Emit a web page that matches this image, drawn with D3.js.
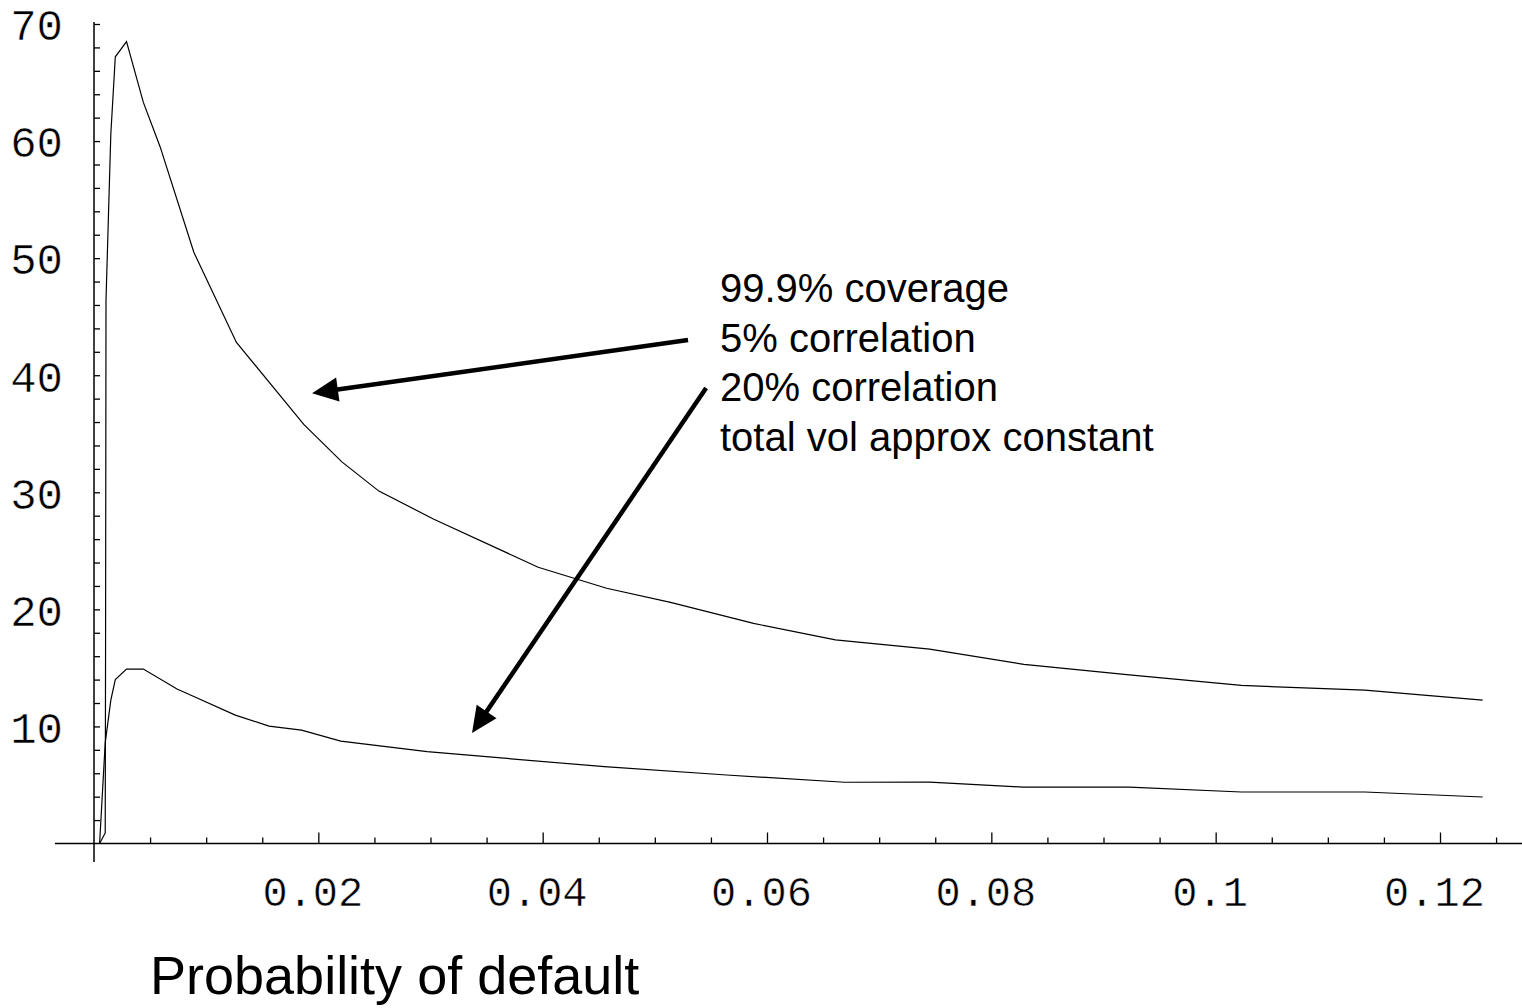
<!DOCTYPE html>
<html>
<head>
<meta charset="utf-8">
<script src="https://cdn.jsdelivr.net/npm/d3@7"></script>
<style>
  body { margin: 0; background: #fff; }
  svg { display: block; }
</style>
</head>
<body>
<svg id="chart" width="1522" height="1008"></svg>
<script>
// Capital (per unit expected loss) vs probability of default, 99.9% coverage
const pdUpper  = [0.0005, 0.001, 0.00103, 0.00107, 0.0015, 0.0019, 0.0029, 0.0044, 0.0059, 0.0089,
                  0.0127, 0.0187, 0.0221, 0.0254, 0.0303, 0.0396, 0.0457, 0.0514, 0.0588, 0.0661,
                  0.0745, 0.0829, 0.0923, 0.1023, 0.1133, 0.1238];
const capUpper = [0, 0.9, 16.1, 46.4, 60.6, 67.2, 68.5, 63.3, 59.5, 50.5,
                  42.8, 35.8, 32.6, 30.1, 27.7, 23.6, 21.8, 20.6, 18.8, 17.4,
                  16.6, 15.3, 14.4, 13.5, 13.1, 12.25];

const pdLower  = [0.0005, 0.001, 0.0015, 0.0019, 0.0029, 0.0044, 0.0074, 0.0088, 0.0126, 0.0156,
                  0.0185, 0.0220, 0.0297, 0.0455, 0.0564, 0.0669, 0.0745, 0.0828, 0.0923, 0.1023,
                  0.1133, 0.1238];
const capLower = [0, 8.6, 12.25, 14.0, 14.9, 14.9, 13.2, 12.6, 10.97, 10.03,
                  9.69, 8.75, 7.84, 6.56, 5.85, 5.23, 5.25, 4.82, 4.82, 4.40,
                  4.40, 3.97];

const xMajorTicks = [0.02, 0.04, 0.06, 0.08, 0.1, 0.12];
const xTickLabels = ["0.02", "0.04", "0.06", "0.08", "0.1", "0.12"];
const yMajorTicks = [10, 20, 30, 40, 50, 60, 70];
const yTickLabels = ["10", "20", "30", "40", "50", "60", "70"];

const annotationLines = ["99.9% coverage", "5% correlation", "20% correlation", "total vol approx constant"];
const xAxisTitle = "Probability of default";

// annotation arrows, in data coordinates: [fromPD, fromCap, toPD, toCap]
const arrows = [
  [0.05296, 43.0, 0.01944, 38.47],
  [0.05457, 38.9, 0.0337, 9.44]
];

const svg = d3.select("#chart");

const x = d3.scaleLinear().domain([0, 0.12]).range([94, 1440]);
const y = d3.scaleLinear().domain([0, 70]).range([843.5, 24]);

const monoFont = "'Liberation Mono', 'Courier New', monospace";
const sansFont = "'Liberation Sans', Arial, sans-serif";

// --- axes lines
svg.append("line")
  .attr("x1", x(x.invert(55))).attr("x2", 1522)
  .attr("y1", y(0)).attr("y2", y(0))
  .attr("stroke", "#000").attr("stroke-width", 1.5);
svg.append("line")
  .attr("x1", x(0)).attr("x2", x(0))
  .attr("y1", y(y.invert(862))).attr("y2", y(y.invert(22)))
  .attr("stroke", "#000").attr("stroke-width", 1.5);

// thin the monospace glyphs slightly with a white outline drawn over the fill
function thinMono(sel, size) {
  sel.attr("font-family", monoFont).attr("font-size", size).attr("fill", "#000")
     .attr("stroke", "#fff").attr("stroke-width", 0.5).attr("paint-order", "fill");
}

// --- x axis ticks
const xMinor = d3.range(0.005, 0.1251, 0.005).filter(v => !xMajorTicks.some(m => Math.abs(m - v) < 1e-9));
const xAxisMajor = d3.axisBottom(x).tickValues(xMajorTicks).tickSize(-11).tickFormat((d, i) => xTickLabels[i]);
const xAxisMinor = d3.axisBottom(x).tickValues(xMinor).tickSize(-6).tickFormat("");

const gxMinor = svg.append("g").attr("transform", `translate(0,${y(0)})`).call(xAxisMinor);
const gxMajor = svg.append("g").attr("transform", `translate(0,${y(0)})`).call(xAxisMajor);
[gxMinor, gxMajor].forEach(g => {
  g.select(".domain").remove();
  g.selectAll(".tick line").attr("stroke", "#000").attr("stroke-width", 1.3);
});
gxMajor.selectAll(".tick text")
  .attr("y", 62).attr("dy", 0).attr("x", -6)
  .call(thinMono, 42);

// --- y axis ticks
const yMinor = d3.range(2, 69, 2).filter(v => v % 10 !== 0);
const yAxisMajor = d3.axisLeft(y).tickValues(yMajorTicks).tickSize(-6).tickFormat((d, i) => yTickLabels[i]);
const yAxisMinor = d3.axisLeft(y).tickValues(yMinor).tickSize(-6).tickFormat("");

const gyMinor = svg.append("g").attr("transform", `translate(${x(0)},0)`).call(yAxisMinor);
const gyMajor = svg.append("g").attr("transform", `translate(${x(0)},0)`).call(yAxisMajor);
[gyMinor, gyMajor].forEach(g => {
  g.select(".domain").remove();
  g.selectAll(".tick line").attr("stroke", "#000").attr("stroke-width", 1.3);
});
gyMajor.selectAll(".tick text")
  .attr("x", -31).attr("dy", "0.36em").attr("text-anchor", "end")
  .call(thinMono, 44);

// --- curves
const line = d3.line().x(d => x(d[0])).y(d => y(d[1]));
svg.append("path")
  .datum(pdUpper.map((p, i) => [p, capUpper[i]]))
  .attr("d", line).attr("fill", "none").attr("stroke", "#000").attr("stroke-width", 1.2);
svg.append("path")
  .datum(pdLower.map((p, i) => [p, capLower[i]]))
  .attr("d", line).attr("fill", "none").attr("stroke", "#000").attr("stroke-width", 1.2);

// --- arrows
const headLen = 26, headHalf = 12;
arrows.forEach(([p0, c0, p1, c1]) => {
  const x0 = x(p0), y0 = y(c0), x1 = x(p1), y1 = y(c1);
  const ang = Math.atan2(y1 - y0, x1 - x0);
  const bx = x1 - headLen * Math.cos(ang), by = y1 - headLen * Math.sin(ang);
  svg.append("line")
    .attr("x1", x0).attr("y1", y0).attr("x2", bx + 2 * Math.cos(ang)).attr("y2", by + 2 * Math.sin(ang))
    .attr("stroke", "#000").attr("stroke-width", 4.5);
  const nx = -Math.sin(ang), ny = Math.cos(ang);
  svg.append("path")
    .attr("d", `M${x1},${y1}L${bx + nx * headHalf},${by + ny * headHalf}L${bx - nx * headHalf},${by - ny * headHalf}Z`)
    .attr("fill", "#000");
});

// --- annotation text
const note = svg.append("text")
  .attr("font-family", sansFont).attr("font-size", 40).attr("fill", "#000");
annotationLines.forEach((t, i) => {
  note.append("tspan").attr("x", 720).attr("y", 302 + i * 49.5).text(t);
});

// --- x axis title
svg.append("text")
  .attr("x", 150).attr("y", 994)
  .attr("font-family", sansFont).attr("font-size", 54).attr("fill", "#000")
  .text(xAxisTitle);
</script>
</body>
</html>
